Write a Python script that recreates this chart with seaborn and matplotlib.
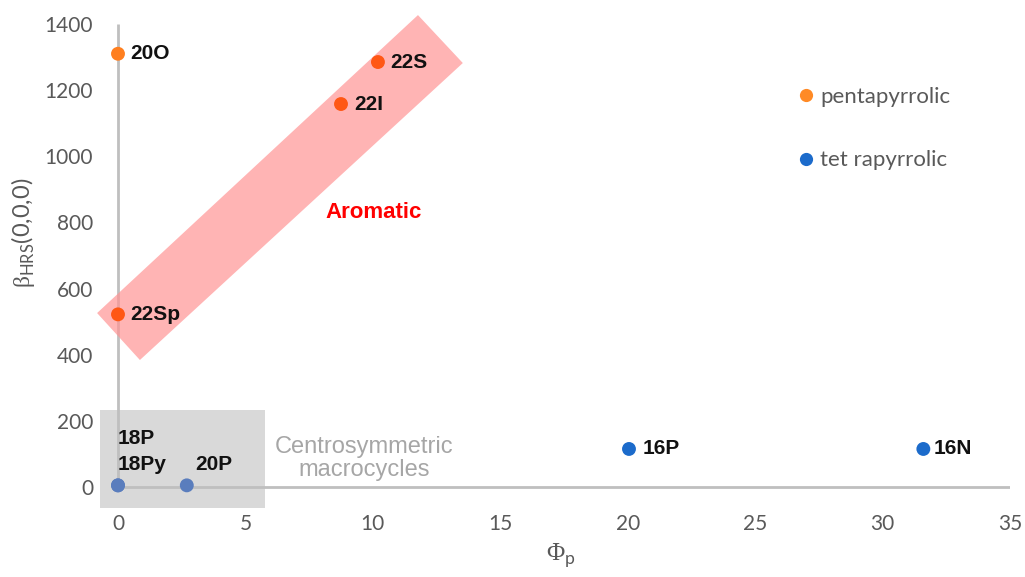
import matplotlib
matplotlib.use("Agg")
import matplotlib.pyplot as plt
import seaborn as sns
import pandas as pd
from matplotlib.patches import Polygon, Rectangle
from matplotlib.lines import Line2D

# ---- data ----
names = ["20O", "22S", "22I", "22Sp", "18P", "18Py", "20P", "16P", "16N"]
phi_p = [0.0, 10.2, 8.75, 0.0, 0.0, 0.0, 2.7, 20.05, 31.6]
beta_hrs = [1310, 1285, 1158, 522, 5, 5, 5, 115, 115]
groups = ["pentapyrrolic"] * 4 + ["tetrapyrrolic"] * 5
point_colors = ["#FF7F1F", "#FF5714", "#FF5714", "#FF5714",
                "#5A7DBD", "#5A7DBD", "#5A7DBD", "#1C6BCB", "#1C6BCB"]
label_offsets = [(12, 0), (12, 0), (13, 0), (12, 0), (0, 47), (0, 21), (8, 21), (14, 0), (10, 0)]
legend_labels = ["pentapyrrolic", "tet rapyrrolic"]
legend_colors = ["#FF8A25", "#1C6BCB"]
x_ticks = [0, 5, 10, 15, 20, 25, 30, 35]
y_ticks = [0, 200, 400, 600, 800, 1000, 1200, 1400]

# band (Aromatic) corners and grey box (data units)
band_x = [-0.82, 0.86, 13.53, 11.77]
band_y = [526, 384, 1282, 1427]
box_x = (-0.706, 5.77)
box_y = (-63.5, 233)

df = pd.DataFrame({"name": names, "phi": phi_p, "beta": beta_hrs, "group": groups})

sns.set_style("white")
plt.rcParams["font.family"] = ["Lato", "DejaVu Sans"]
plt.rcParams["mathtext.fontset"] = "custom"
plt.rcParams["mathtext.rm"] = "Liberation Serif"
plt.rcParams["mathtext.sf"] = "Lato"

W, H = 1025, 577
fig = plt.figure(figsize=(W / 100, H / 100), dpi=100)
ax = fig.add_axes([100 / W, 1 - 508 / H, 910 / W, 484 / H])

ax.set_xlim(-0.706, 35)
ax.set_ylim(-63.5, 1400)

# grey box
ax.add_patch(Rectangle((box_x[0], box_y[0]), box_x[1] - box_x[0], box_y[1] - box_y[0],
                       facecolor="#D9D9D9", edgecolor="none", zorder=0))
# axis lines at zero
ax.plot([0, 0], [0, 1400], color="#BFBFBF", lw=2, zorder=1, solid_capstyle="butt")
ax.plot([0, 35], [0, 0], color="#BFBFBF", lw=2, zorder=1, solid_capstyle="butt")
# aromatic band
ax.add_patch(Polygon(list(zip(band_x, band_y)), closed=True, facecolor="#FF9494",
                     alpha=0.7, edgecolor="none", zorder=2, clip_on=False))

palette = dict(zip(names, point_colors))
sns.scatterplot(data=df, x="phi", y="beta", hue="name", palette=palette, s=100,
                linewidth=0, legend=False, ax=ax, zorder=5, clip_on=False)

for n, xv, yv, off in zip(names, phi_p, beta_hrs, label_offsets):
    ax.annotate(n, (xv, yv), xytext=off, textcoords="offset pixels",
                ha="left", va="center", fontsize=15, fontweight="bold",
                family="Liberation Sans", color="#111111", zorder=6)

ax.text(10.04, 829, "Aromatic", color="#FF0000", fontsize=16, fontweight="bold",
        family="Liberation Sans", ha="center", va="center", zorder=6)
ax.text(9.65, 86, "Centrosymmetric\nmacrocycles", color="#A6A6A6", fontsize=17,
        family="Liberation Sans", ha="center", va="center", linespacing=1.1, zorder=6)

for s in ax.spines.values():
    s.set_visible(False)
ax.set_xticks(x_ticks)
ax.set_yticks(y_ticks)
ax.tick_params(axis="both", length=0, labelsize=15, labelcolor="#595959")
ax.tick_params(axis="x", pad=4)
ax.tick_params(axis="y", pad=5)

ax.set_xlabel(r"$\mathrm{Φ}_{\mathsf{p}}$", fontsize=18, color="#595959")
ax.xaxis.set_label_coords((561 - 100) / 910, (508 - 542) / 484)
ax.set_ylabel(r"$\mathrm{β}_{\mathsf{HRS}}$(0,0,0)", fontsize=17, color="#595959")
ax.yaxis.set_label_coords((37 - 100) / 910, (508 - 233) / 484)

handles = [Line2D([], [], marker="o", linestyle="none", markersize=9.5,
                  markerfacecolor=c, markeredgewidth=0) for c in legend_colors]
ax.legend(handles, legend_labels, loc="upper left", frameon=False,
          bbox_to_anchor=(798 / W, 1 - 87 / H), bbox_transform=fig.transFigure,
          fontsize=16, labelcolor="#595959", handlelength=0.7, handletextpad=0.3,
          labelspacing=1.95, borderpad=0, borderaxespad=0)

fig.savefig("out.png", dpi=100)
